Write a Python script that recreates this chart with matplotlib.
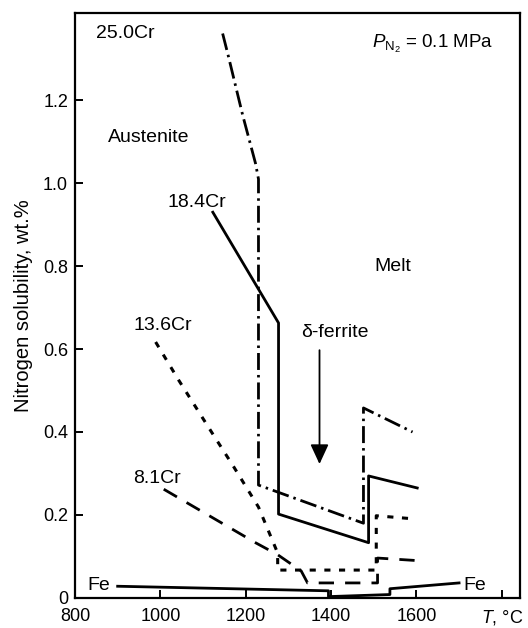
import matplotlib
matplotlib.use("Agg")
import matplotlib.pyplot as plt

plt.rcParams['font.family'] = ['Liberation Sans', 'DejaVu Sans']
plt.rcParams['mathtext.fontset'] = 'custom'
plt.rcParams['mathtext.rm'] = 'Liberation Sans'
plt.rcParams['mathtext.it'] = 'Liberation Sans:italic'

# nitrogen solubility (wt.%) vs temperature (deg C) at 0.1 MPa N2
t_25cr = [1146, 1160, 1193, 1223, 1230, 1230, 1476, 1476, 1591]
n_25cr = [1.361, 1.304, 1.164, 1.048, 1.01, 0.272, 0.18, 0.458, 0.40]

t_18cr = [1123, 1277, 1277, 1488, 1488, 1602]
n_18cr = [0.930, 0.663, 0.202, 0.133, 0.294, 0.265]

t_13cr = [989, 1043, 1123, 1172, 1230, 1275, 1275, 1506, 1506, 1600]
n_13cr = [0.617, 0.525, 0.395, 0.316, 0.219, 0.108, 0.067, 0.067, 0.198, 0.19]

t_8cr = [1008, 1223, 1275, 1330, 1345, 1509, 1509, 1600]
n_8cr = [0.262, 0.133, 0.104, 0.065, 0.036, 0.036, 0.096, 0.09]

t_fe = [900, 1394, 1394, 1538, 1538, 1700]
n_fe = [0.028, 0.017, 0.003, 0.008, 0.022, 0.036]

xticks = [800, 1000, 1200, 1400, 1600, 1800]
xticklabels = ['800', '1000', '1200', '1400', '1600', '$T$, °C']
yticks = [0, 0.2, 0.4, 0.6, 0.8, 1.0, 1.2]
yticklabels = ['0', '0.2', '0.4', '0.6', '0.8', '1.0', '1.2']

fig = plt.figure(figsize=(5.28, 6.28), dpi=100)
ax = fig.add_axes([0.142, 0.048, 0.843, 0.931])

lw = 2.0
ax.plot(t_25cr, n_25cr, color='k', lw=lw, linestyle=(0, (6.1, 1.8, 0.9, 1.8)))
ax.plot(t_18cr, n_18cr, color='k', lw=lw, linestyle='-')
ax.plot(t_13cr, n_13cr, color='k', lw=2.2, linestyle=(0, (2.0, 2.8)))
ax.plot(t_8cr, n_8cr, color='k', lw=lw, linestyle=(0, (5.5, 4.0)))
ax.plot(t_fe, n_fe, color='k', lw=lw, linestyle='-')

fs = 14
ax.text(849, 1.361, '25.0Cr', fontsize=fs, va='center')
ax.text(877, 1.111, 'Austenite', fontsize=fs, va='center')
ax.text(1017, 0.954, '18.4Cr', fontsize=fs, va='center')
ax.text(936, 0.658, '13.6Cr', fontsize=fs, va='center')
ax.text(936, 0.287, '8.1Cr', fontsize=fs, va='center')
ax.text(830, 0.029, 'Fe', fontsize=fs, va='center')
ax.text(1710, 0.029, 'Fe', fontsize=fs, va='center')
ax.text(1502, 0.798, 'Melt', fontsize=fs, va='center')
ax.text(1329, 0.641, 'δ-ferrite', fontsize=fs, va='center')
ax.text(1780, 1.335, r'$P_{\mathrm{N_2}}$ = 0.1 MPa', fontsize=13.5, va='center', ha='right')

ax.annotate('', xy=(1373, 0.316), xytext=(1373, 0.604),
            arrowprops=dict(arrowstyle='-|>,head_length=0.8,head_width=0.37',
                            mutation_scale=15, color='k', lw=1.3))

ax.set_xlim(800, 1843)
ax.set_ylim(0, 1.41)
ax.set_xticks(xticks)
ax.set_xticklabels(xticklabels)
ax.set_yticks(yticks)
ax.set_yticklabels(yticklabels)
ax.tick_params(direction='in', length=6, width=1.4, labelsize=13)
ax.tick_params(axis='x', pad=7)
ax.tick_params(axis='y', pad=5)
ax.set_ylabel('Nitrogen solubility, wt.%', fontsize=14.5, labelpad=7)
for s in ax.spines.values():
    s.set_linewidth(1.6)

plt.savefig('out.png', dpi=100)
